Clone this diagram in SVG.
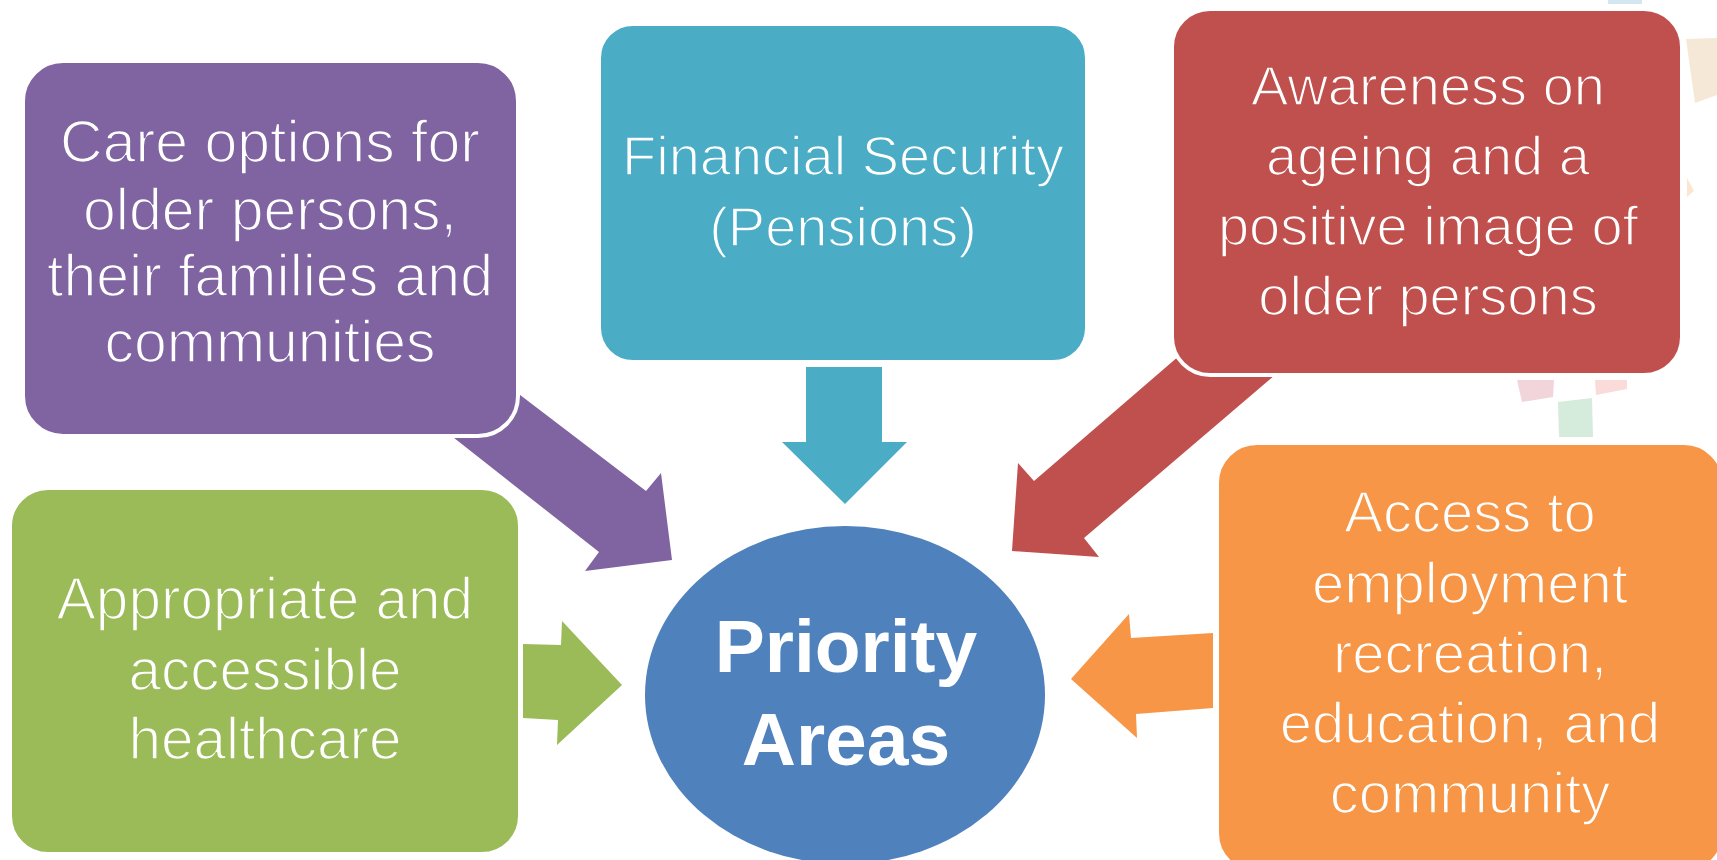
<svg xmlns="http://www.w3.org/2000/svg" width="1717" height="860" viewBox="0 0 1717 860">
<style>
.box{stroke:#FFFFFF;stroke-width:4}
.lbl{font-family:"Liberation Sans",Arial,sans-serif;font-size:56px;fill:#FFFFFF;text-anchor:middle;stroke-width:1.6}
.big{font-family:"Liberation Sans",Arial,sans-serif;font-size:75px;font-weight:bold;fill:#FFFFFF;text-anchor:middle}
#care .lbl{stroke:#8064A2;font-size:59px}
#financial .lbl{stroke:#4BACC6}
#awareness .lbl{stroke:#C0504D}
#healthcare .lbl{stroke:#9BBB59;font-size:58.5px}
#access .lbl{stroke:#F79646;font-size:58px}
</style>
<rect width="1717" height="860" fill="#FFFFFF"/>
<g id="decor">
<polygon points="1608,0 1642,0 1642,4 1608,4" fill="#D3E7F1"/>
<polygon points="1686,39 1717,38 1717,95 1695,103" fill="#F5E8D6"/>
<polygon points="1687,178 1694,191 1687,197" fill="#FBE6CF"/>
<polygon points="1517,380 1554,380 1553,397 1522,402" fill="#F2D5DA"/>
<polygon points="1595,380 1627,380 1627,389 1596,395" fill="#FADBDA"/>
<polygon points="1558,402 1592,398 1593,437 1559,437" fill="#D5EBDC"/>
</g>
<g id="connectors">
<polygon points="461,350 646,491 661,473 672,560 585,571 599,552 430,419" fill="#8064A2"/>
<polygon points="806,367 882,367 882,442 907,442 845,504 782,442 806,442" fill="#4BACC6"/>
<polygon points="1216,324 1034,481 1018,463 1012,551 1099,557 1084,538 1295,358" fill="#C0504D"/>
<polygon points="523,644 561,645 562,621 622,685 557,745 558,720 523,718" fill="#9BBB59"/>
<polygon points="1213,633 1213,708 1136,714 1137,738 1071,679 1129,614 1131,638" fill="#F79646"/>
</g>
<g id="care">
<rect class="box" x="23" y="61" width="495" height="375" rx="40" fill="#8064A2"/>
<text class="lbl" x="270" y="162">Care options for</text>
<text class="lbl" x="270" y="230">older persons,</text>
<text class="lbl" x="270" y="296">their families and</text>
<text class="lbl" x="270" y="362">communities</text>
</g>
<g id="financial">
<rect class="box" x="599" y="24" width="488" height="338" rx="34" fill="#4BACC6"/>
<text class="lbl" x="843" y="175">Financial Security</text>
<text class="lbl" x="843" y="246">(Pensions)</text>
</g>
<g id="awareness">
<rect class="box" x="1172" y="9" width="510" height="366" rx="38" fill="#C0504D"/>
<text class="lbl" x="1428" y="105">Awareness on</text>
<text class="lbl" x="1428" y="175">ageing and a</text>
<text class="lbl" x="1428" y="245">positive image of</text>
<text class="lbl" x="1428" y="315">older persons</text>
</g>
<g id="healthcare">
<rect class="box" x="10" y="488" width="510" height="366" rx="38" fill="#9BBB59"/>
<text class="lbl" x="265" y="619">Appropriate and</text>
<text class="lbl" x="265" y="690">accessible</text>
<text class="lbl" x="265" y="759">healthcare</text>
</g>
<g id="access">
<rect class="box" x="1217" y="443" width="507" height="430" rx="40" fill="#F79646"/>
<text class="lbl" x="1470" y="532">Access to</text>
<text class="lbl" x="1470" y="603">employment</text>
<text class="lbl" x="1470" y="673">recreation,</text>
<text class="lbl" x="1470" y="743">education, and</text>
<text class="lbl" x="1470" y="813">community</text>
</g>
<g id="priority">
<ellipse cx="845" cy="695" rx="200" ry="169" fill="#4F81BD"/>
<text class="big" x="846" y="672">Priority</text>
<text class="big" x="846" y="765">Areas</text>
</g>
</svg>
